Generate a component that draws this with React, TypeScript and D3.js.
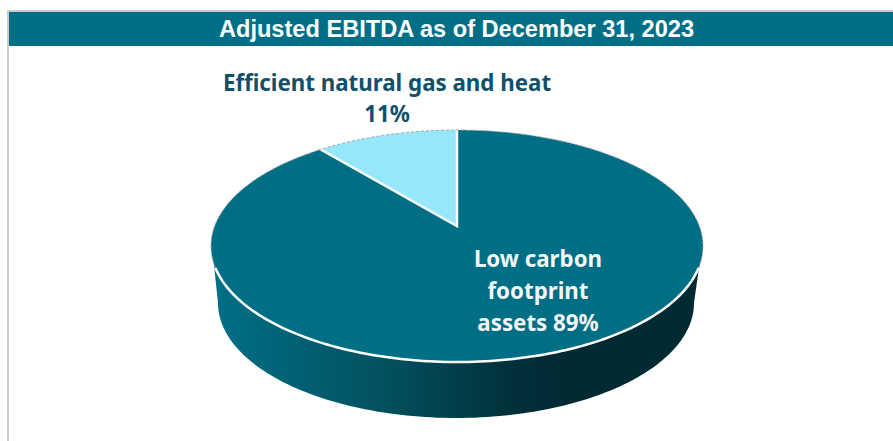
import * as d3 from "d3";

const sliceNames = ["Low carbon footprint assets", "Efficient natural gas and heat"];
const sliceValues = [89, 11];
const sliceColors = ["#006f85", "#96e7fc"];
const title = "Adjusted EBITDA as of December 31, 2023";
const lowCarbonLines = ["Low carbon", "footprint", "assets 89%"];
const gasLines = ["Efficient natural gas and heat", "11%"];

const width = 893;
const height = 441;

// top face of the pie
const cx = 457;
const cy = 246;
const rx = 246;
const ry = 116;
// the wedge tip sits above the ellipse centre because of the perspective
const tipShift = 0.172;

// bottom face, a bit narrower
const bottomCx = 456;
const bottomCy = 303;
const bottomRx = 238;
const bottomRy = 115;

const project = (angle: number, r = 1): [number, number] => {
    const x = r * Math.sin(angle);
    const y = r * Math.cos(angle);
    const w = 1 + tipShift * y;
    return [
        cx + (rx * x * Math.sqrt(1 - tipShift * tipShift)) / w,
        cy - (ry * (y + tipShift)) / w,
    ];
};

const line = d3.line();

const slicePath = (start: number, end: number) => {
    const steps = Math.ceil((end - start) / 0.02);
    const rim = d3.range(steps + 1).map((i) => project(start + ((end - start) * i) / steps));
    return line([project(0, 0), ...rim]) + "Z";
};

const ellipseArc = (from: number, to: number, ex: number, ey: number, ecx: number, ecy: number) => {
    return d3.range(121).map((i): [number, number] => {
        const t = from + ((to - from) * i) / 120;
        return [ecx + ex * Math.cos(t), ecy + ey * Math.sin(t)];
    });
};

const App = () => {
    const arcs = d3.pie<number>().sort(null)(sliceValues);

    const lowerBottom = ellipseArc(0, Math.PI, bottomRx, bottomRy, bottomCx, bottomCy);
    const sidePath = line([[cx + rx - 1, cy], ...lowerBottom, [cx - rx + 1, cy]]) + "Z";
    const lowerRim = line(ellipseArc(0.19, Math.PI - 0.19, rx, ry, cx, cy)) || "";
    const upperRim = line(ellipseArc(Math.PI - 0.19, 2 * Math.PI + 0.19, rx, ry, cx, cy)) || "";

    const labelFont = "'Noto Sans', sans-serif";

    return (
        <svg
            width={width}
            height={height}
            style={{ position: "absolute", left: 0, top: 0, display: "block", background: "#fff" }}
        >
            <defs>
                <linearGradient id="side" gradientUnits="userSpaceOnUse" x1={215} x2={560} y1={0} y2={0}>
                    <stop offset="0" stopColor="#006f85" />
                    <stop offset="0.5" stopColor="#03505f" />
                    <stop offset="0.85" stopColor="#01313b" />
                    <stop offset="1" stopColor="#022a33" />
                </linearGradient>
            </defs>

            <rect x={7} y={10} width={width - 7} height={2} fill="#cccccc" />
            <rect x={7} y={10} width={2} height={height - 10} fill="#cccccc" />
            <rect x={9} y={12} width={width - 9} height={34} fill="#006f85" />
            <text
                x={456.5}
                y={37}
                textAnchor="middle"
                fill="#fff"
                fontFamily="'Liberation Sans', Arial, sans-serif"
                fontWeight="bold"
                fontSize={23.6}
            >
                {title}
            </text>

            <path d={sidePath} fill="url(#side)" />

            {arcs.map((a, i) => (
                <path key={sliceNames[i]} d={slicePath(a.startAngle, a.endAngle)} fill={sliceColors[i]} />
            ))}
            <path
                d={line([project(arcs[1].startAngle), project(0, 0), project(0)]) || ""}
                fill="none"
                stroke="#f4fbfd"
                strokeWidth={2.5}
            />
            <path d={lowerRim} fill="none" stroke="#fff" strokeWidth={2.5} />
            <path d={upperRim} fill="none" stroke="#a9a9a9" strokeWidth={1} strokeDasharray="3 2" />

            <g fontFamily={labelFont} fontWeight="bold" fontSize={22.3} textAnchor="middle">
                {gasLines.map((t, i) => (
                    <text key={t} x={387} y={91 + i * 31} fill="#10506a">
                        {t}
                    </text>
                ))}
                {lowCarbonLines.map((t, i) => (
                    <text key={t} x={538} y={267 + i * 32} fill="#f2f7f8">
                        {t}
                    </text>
                ))}
            </g>
        </svg>
    );
};

export default App;
